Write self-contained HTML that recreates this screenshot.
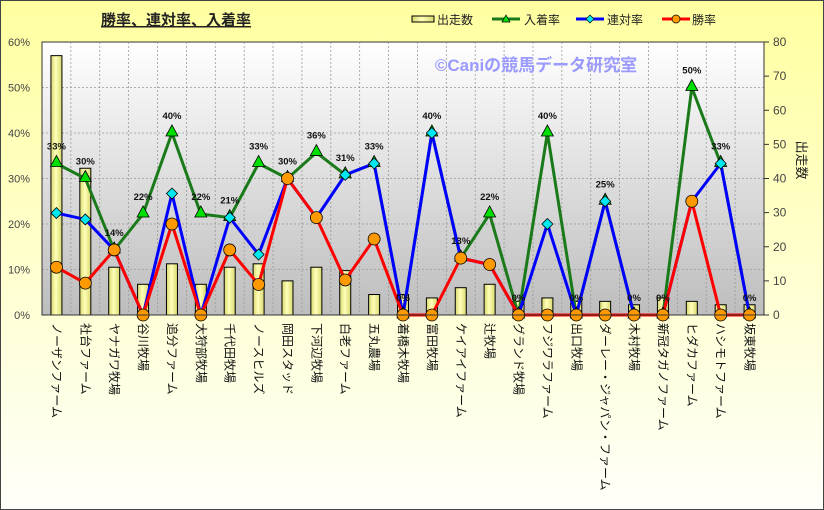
<!DOCTYPE html>
<html><head><meta charset="utf-8"><style>
html,body{margin:0;padding:0;width:824px;height:510px;overflow:hidden;background:#fff}
svg{display:block;font-family:"Liberation Sans","Noto Sans CJK JP",sans-serif}
</style></head><body>
<svg id="c" width="824" height="510" xmlns="http://www.w3.org/2000/svg">
<defs>
<linearGradient id="bg" x1="0" y1="0" x2="0" y2="1"><stop offset="0" stop-color="#ffffa0"/><stop offset="1" stop-color="#fffffa"/></linearGradient>
<linearGradient id="pa" x1="0" y1="0" x2="0" y2="1"><stop offset="0" stop-color="#ffffff"/><stop offset="1" stop-color="#bdbdbd"/></linearGradient>
<linearGradient id="bar" x1="0" y1="0" x2="1" y2="0"><stop offset="0" stop-color="#d8d870"/><stop offset="0.45" stop-color="#ffffb8"/><stop offset="1" stop-color="#d8d870"/></linearGradient>
</defs>
<rect x="0.5" y="0.5" width="823" height="509" fill="url(#bg)" stroke="#444" stroke-width="1"/>
<rect x="42" y="42" width="722" height="273" fill="url(#pa)" stroke="#333" stroke-width="1"/>
<g id="grid"></g>
<text x="176" y="25" font-size="15" font-weight="bold" text-anchor="middle" fill="#222" text-decoration="underline">勝率、連対率、入着率</text>
<text x="536" y="71" font-size="17" font-weight="bold" text-anchor="middle" fill="#9a9aff">©Caniの競馬データ研究室</text>
<g id="bars"></g><g id="lines"></g><g id="labels"></g><g id="axes"></g>
<g font-size="12" fill="#222">
<rect x="412" y="16" width="22" height="6" fill="url(#bar)" stroke="#000"/><text x="437" y="24">出走数</text>
<line x1="492" y1="19" x2="520" y2="19" stroke="#1a7a1a" stroke-width="3"/><polygon points="506,15 510,22 502,22" fill="#00e000" stroke="#000" stroke-width="0.7"/><text x="524" y="24">入着率</text>
<line x1="576" y1="19" x2="604" y2="19" stroke="#0000ff" stroke-width="3"/><polygon points="590,15 594,19 590,23 586,19" fill="#00e8f0" stroke="#000" stroke-width="0.7"/><text x="607" y="24">連対率</text>
<line x1="662" y1="19" x2="690" y2="19" stroke="#ff0000" stroke-width="3"/><circle cx="676" cy="19" r="4" fill="#ff9900" stroke="#000" stroke-width="0.7"/><text x="692" y="24">勝率</text>
</g>
<text transform="translate(797,160) rotate(90)" font-size="13" text-anchor="middle" fill="#222">出走数</text>
</svg>
<script>
var names=["ノーザンファーム","社台ファーム","ヤナガワ牧場","谷川牧場","追分ファーム","大狩部牧場","千代田牧場","ノースヒルズ","岡田スタッド","下河辺牧場","白老ファーム","五丸農場","着橋木牧場","富田牧場","ケイアイファーム","辻牧場","グランド牧場","フジワラファーム","出口牧場","ダーレー・ジャパン・ファーム","木村牧場","新冠タガノファーム","ヒダカファーム","ハシモトファーム","坂東牧場"];
var cnt=[76,43,14,9,15,9,14,15,10,14,13,6,6,5,8,9,4,5,4,4,3,5,4,3,3];
var ic=[33.3,30,14.3,22.2,40,22.2,21.4,33.3,30,35.7,30.8,33.3,0,40,12.5,22.2,0,40,0,25,0,0,50,33.3,0];
var rt=[22.4,21,14.3,0,26.7,0,21.4,13.3,30,21.4,30.8,33.3,0,40,12.5,11.1,0,20,0,25,0,0,25,33.3,0];
var wn=[10.5,7,14.3,0,20,0,14.3,6.7,30,21.4,7.7,16.7,0,0,12.5,11.1,0,0,0,0,0,0,25,0,0];
var L=42,R=764,T=42,B=315,n=25,w=(R-L)/n;
function X(i){return L+w*(i+0.5)}
function Yp(v){return B-v*(B-T)/60}
function Yc(v){return B-v*(B-T)/80}
var s='';
for(var k=1;k<6;k++){var y=Yp(k*10);s+='<line x1="'+L+'" y1="'+y+'" x2="'+R+'" y2="'+y+'" stroke="#999" stroke-dasharray="2,2" stroke-width="0.8"/>';}
for(var i=1;i<n;i++){var x=L+w*i;s+='<line x1="'+x+'" y1="'+T+'" x2="'+x+'" y2="'+B+'" stroke="#999" stroke-dasharray="2,2" stroke-width="0.8"/>';}
document.getElementById('grid').innerHTML=s;
s='';
for(var i=0;i<n;i++){var y=Yc(cnt[i]);s+='<rect x="'+(X(i)-5.5)+'" y="'+y+'" width="11" height="'+(B-y)+'" fill="url(#bar)" stroke="#000" stroke-width="1"/>';}
document.getElementById('bars').innerHTML=s;
function pl(a,c){var p=a.map(function(v,i){return X(i)+','+Yp(v)}).join(' ');return '<polyline points="'+p+'" fill="none" stroke="'+c+'" stroke-width="3" stroke-linejoin="round"/>';}
s=pl(ic,'#1a7a1a')+pl(rt,'#0000ff')+pl(wn,'#ff0000');
for(var i=0;i<n;i++){var x=X(i),y=Yp(ic[i]);s+='<polygon points="'+x+','+(y-8)+' '+(x+6)+','+(y+3)+' '+(x-6)+','+(y+3)+'" fill="#00e000" stroke="#000" stroke-width="0.8"/>';}
for(var i=0;i<n;i++){var x=X(i),y=Yp(rt[i]);s+='<polygon points="'+x+','+(y-5.5)+' '+(x+5.5)+','+y+' '+x+','+(y+5.5)+' '+(x-5.5)+','+y+'" fill="#00e8f0" stroke="#000" stroke-width="0.8"/>';}
for(var i=0;i<n;i++){s+='<circle cx="'+X(i)+'" cy="'+Yp(wn[i])+'" r="6" fill="#ff9900" stroke="#000" stroke-width="0.8"/>';}
document.getElementById('lines').innerHTML=s;
s='';
for(var i=0;i<n;i++){s+='<text x="'+X(i)+'" y="'+(Yp(ic[i])-14)+'" font-size="9.5" font-weight="bold" text-anchor="middle" fill="#111">'+Math.round(ic[i])+'%</text>';}
for(var i=0;i<n;i++){s+='<text transform="translate('+(X(i)-4)+',323) rotate(90)" font-size="12" fill="#111">'+names[i]+'</text>';}
document.getElementById('labels').innerHTML=s;
s='';
for(var k=0;k<=6;k++){s+='<text x="30" y="'+(Yp(k*10)+4)+'" font-size="11" text-anchor="end" fill="#444">'+(k*10)+'%</text>';}
for(var k=0;k<=8;k++){var y=Yc(k*10);s+='<line x1="'+R+'" y1="'+y+'" x2="'+(R+5)+'" y2="'+y+'" stroke="#333"/><text x="773" y="'+(y+4)+'" font-size="12" fill="#444">'+(k*10)+'</text>';}
s+='<line x1="'+L+'" y1="'+T+'" x2="'+L+'" y2="'+B+'" stroke="#333"/><line x1="'+R+'" y1="'+T+'" x2="'+R+'" y2="'+B+'" stroke="#333"/><line x1="'+L+'" y1="'+B+'" x2="'+R+'" y2="'+B+'" stroke="#333"/>';
document.getElementById('axes').innerHTML=s;
</script>
</body></html>
